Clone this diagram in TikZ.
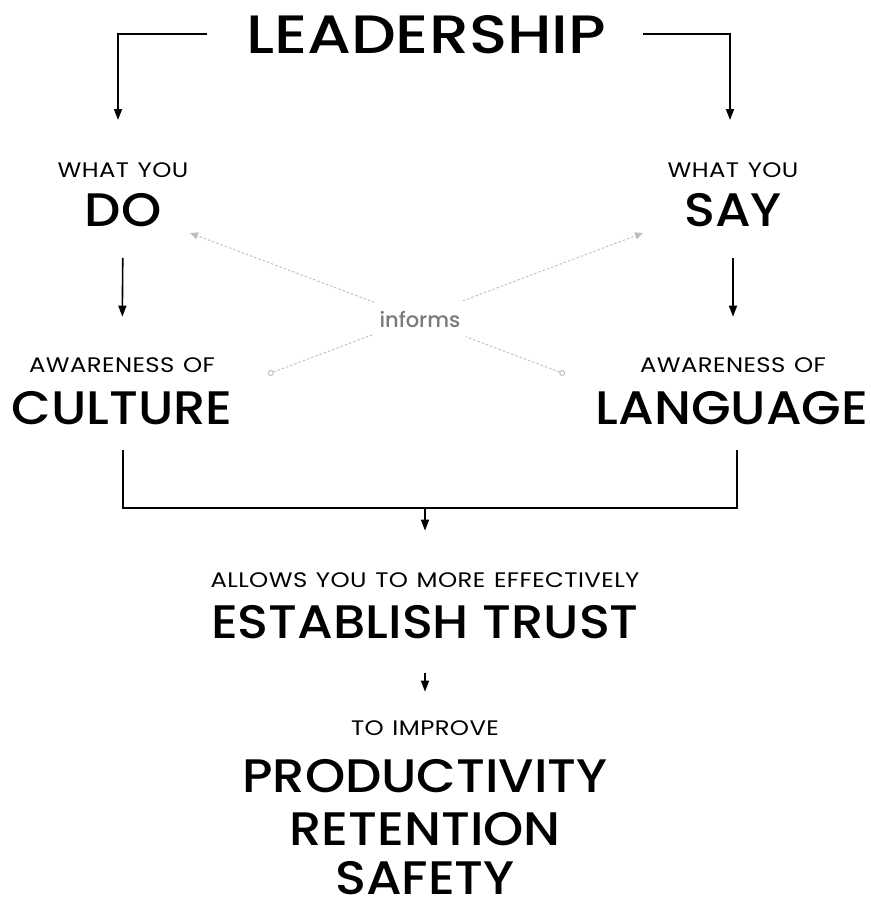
\documentclass[tikz,border=0pt]{standalone}
\usepackage{fontspec}
\setmainfont{Poppins}
\newfontfamily\leadfont{Poppins Medium}[FakeStretch=1.17]
\newfontfamily\headfont{Poppins Medium}[FakeStretch=1.09]
\newfontfamily\lightfont{Poppins}[FakeStretch=1.16, LetterSpace=2, WordSpace=1.25]
\newfontfamily\notefont{Poppins Medium}
\usepackage{tikz}
\usetikzlibrary{arrows.meta, positioning}

\definecolor{inkgray}{HTML}{7A7A7A}
\definecolor{dashgray}{HTML}{BDBDBD}

\tikzset{
  small/.style = {anchor=base, font=\lightfont\fontsize{21}{24}\selectfont},
  big/.style = {anchor=base, font=\headfont\fontsize{47}{52}\selectfont},
  conn/.style = {line width=1.6pt, -{Triangle[length=11pt, width=8pt]}},
  hint/.style = {dashgray, line width=0.9pt, dash pattern=on 2.5pt off 2pt,
    {Circle[open, length=6pt, width=6pt, line width=0.9pt]}-{Triangle[length=8pt, width=7pt]}}
}

\begin{document}
\begin{tikzpicture}[x=1pt, y=-1pt]
  \useasboundingbox (0,0) rectangle (870,899);

  % top
  \node[anchor=base, font=\leadfont\fontsize{54}{60}\selectfont] (lead) at (426,53) {LEADERSHIP};

  \node[small] (whatdo) at (123,177) {WHAT YOU};
  \node[big] (do) at (123,226) {DO};
  \node[small] (whatsay) at (733,177) {WHAT YOU};
  \node[big] (say) at (733,226) {SAY};

  \node[small] (awcult) at (122,372) {AWARENESS OF};
  \node[big] (cult) at (122,424) {CULTURE};
  \node[small] (awlang) at (733,372) {AWARENESS OF};
  \node[big] (lang) at (732,424) {LANGUAGE};

  % bottom
  \node[small] (allows) at (425,587) {ALLOWS YOU TO MORE EFFECTIVELY};
  \node[big] (trust) at (425,638) {ESTABLISH TRUST};
  \node[small] (improve) at (425,735) {TO IMPROVE};
  \node[big] (prod) at (425,792) {PRODUCTIVITY};
  \node[big] (ret) at (425,845) {RETENTION};
  \node[big] (safe) at (425,894) {SAFETY};

  % brackets
  \coordinate (ldown) at (118,120);
  \coordinate (rdown) at (730,120);
  \draw[conn] ([xshift=-35pt]lead.west) -| (ldown);
  \draw[conn] ([xshift=33pt]lead.east) -| (rdown);

  \draw[conn, shorten <=28pt, shorten >=37pt] (do.south) -- (awcult.north);
  \draw[conn, shorten <=28pt, shorten >=37pt] (say.south) -- (awlang.north);

  \coordinate (cfoot) at (123,450);
  \coordinate (lfoot) at (737,450);
  \coordinate (join) at (425,508);
  \draw[line width=1.6pt] (cfoot) |- (lfoot |- join) -- (lfoot);
  \draw[conn, shorten >=38pt] (join) -- (allows.north);
  \draw[conn, shorten <=31pt, shorten >=25pt] (trust.south) -- (improve.north);

  % informs
  \coordinate (cultdot) at (268,374);
  \coordinate (saytip) at (643,233);
  \coordinate (langdot) at (565,374);
  \coordinate (dotip) at (190,233);
  \draw[hint] (cultdot) -- (saytip);
  \draw[hint] (langdot) -- (dotip);
  \node[fill=white, minimum width=92pt, minimum height=36pt, text=inkgray,
        font=\notefont\fontsize{21}{24}\selectfont] (informs) at (420,319) {informs};
\end{tikzpicture}
\end{document}
